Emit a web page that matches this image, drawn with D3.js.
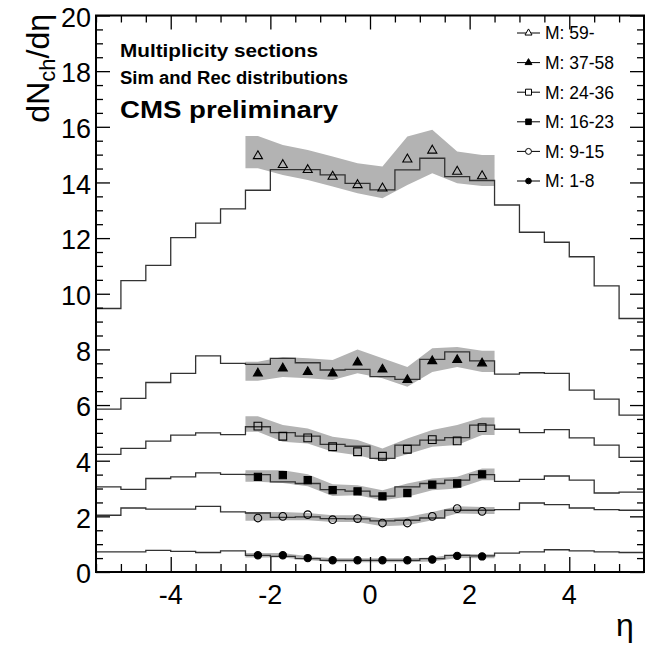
<!DOCTYPE html>
<html>
<head>
<meta charset="utf-8">
<script src="https://cdn.jsdelivr.net/npm/d3@7"></script>
<style>
  body { margin: 0; background: #fff; }
  text { font-family: "Liberation Sans", Arial, Helvetica, sans-serif; fill: #000; }
</style>
</head>
<body>
<script>
// bin edges in eta and the centres where the reco points sit
var etaEdges = [-5.5, -5, -4.5, -4, -3.5, -3, -2.5, -2, -1.5, -1, -0.5, 0,
                0.5, 1, 1.5, 2, 2.5, 3, 3.5, 4, 4.5, 5, 5.5];
var etaCenters = [-2.25, -1.75, -1.25, -0.75, -0.25, 0.25, 0.75, 1.25, 1.75, 2.25];

var labels = ["M: 59-", "M: 37-58", "M: 24-36", "M: 16-23", "M: 9-15", "M: 1-8"];

// simulated histograms (22 bins)
var simM59 = [9.47, 10.47, 11.02, 12.02, 12.54, 13.05, 13.72, 14.46, 14.46, 14.27, 13.97,
              13.73, 14.45, 14.87, 14.21, 14.07, 13.19, 12.21, 11.85, 11.33, 10.28, 9.11];
var simM37 = [5.85, 6.24, 6.81, 7.14, 7.77, 7.50, 7.46, 7.68, 7.52, 7.26, 7.28,
              7.02, 6.92, 7.64, 7.91, 7.59, 7.11, 7.16, 7.14, 6.54, 6.21, 5.64];
var simM24 = [4.23, 4.44, 4.70, 4.92, 5.00, 4.94, 5.22, 5.01, 4.88, 4.59, 4.52,
              4.08, 4.56, 4.74, 4.83, 5.28, 5.13, 5.01, 5.12, 4.82, 4.56, 4.12];
var simM16 = [3.06, 2.97, 3.36, 3.42, 3.56, 3.51, 3.50, 3.24, 3.18, 2.96, 2.91,
              2.73, 3.06, 3.18, 3.30, 3.50, 3.26, 3.33, 3.45, 3.30, 2.84, 2.87];
var simM9  = [2.04, 2.30, 2.26, 2.26, 2.36, 2.16, 2.12, 1.96, 1.98, 1.92, 1.91,
              1.84, 1.86, 1.94, 2.22, 2.22, 2.24, 2.48, 2.42, 2.30, 2.24, 2.22];
var simM1  = [0.72, 0.72, 0.78, 0.74, 0.70, 0.76, 0.60, 0.56, 0.48, 0.42, 0.42,
              0.42, 0.42, 0.48, 0.60, 0.58, 0.68, 0.72, 0.80, 0.76, 0.72, 0.70];

// reconstructed points
var recM59 = [14.95, 14.63, 14.45, 14.21, 13.91, 13.79, 14.83, 15.15, 14.39, 14.23];
var recM37 = [7.14, 7.32, 7.19, 7.14, 7.53, 7.28, 6.90, 7.58, 7.62, 7.50];
var recM24 = [5.24, 4.88, 4.82, 4.50, 4.32, 4.16, 4.41, 4.76, 4.71, 5.19];
var recM16 = [3.42, 3.48, 3.30, 2.94, 2.90, 2.72, 2.84, 3.14, 3.18, 3.51];
var recM9  = [1.94, 2.00, 2.06, 1.88, 1.92, 1.76, 1.76, 2.00, 2.28, 2.18];
var recM1  = [0.60, 0.60, 0.50, 0.42, 0.42, 0.42, 0.42, 0.45, 0.58, 0.56];

// systematic bands (low / high)
var loM59 = [14.51, 14.27, 14.09, 13.85, 13.61, 13.43, 13.91, 14.33, 13.97, 13.87];
var hiM59 = [15.67, 15.35, 15.17, 14.93, 14.69, 14.57, 15.65, 15.89, 15.11, 14.99];
var loM37 = [6.87, 7.01, 6.96, 6.90, 7.14, 6.96, 6.66, 7.19, 7.37, 7.19];
var hiM37 = [7.56, 7.73, 7.68, 7.62, 8.00, 7.68, 7.37, 8.04, 8.09, 7.95];
var loM24 = [5.04, 4.68, 4.62, 4.32, 4.20, 3.98, 4.23, 4.50, 4.56, 4.92];
var hiM24 = [5.60, 5.28, 5.16, 4.86, 4.74, 4.44, 4.80, 5.10, 5.28, 5.55];
var loM16 = [3.24, 3.20, 3.08, 2.73, 2.76, 2.58, 2.70, 2.94, 3.00, 3.30];
var hiM16 = [3.66, 3.66, 3.51, 3.15, 3.12, 2.94, 3.18, 3.36, 3.42, 3.72];
var loM9  = [1.84, 1.86, 1.86, 1.80, 1.80, 1.64, 1.68, 1.86, 2.10, 2.08];
var hiM9  = [2.16, 2.16, 2.12, 2.04, 2.04, 1.92, 1.98, 2.16, 2.36, 2.34];
var loM1  = [0.52, 0.52, 0.43, 0.35, 0.35, 0.35, 0.35, 0.38, 0.50, 0.49];
var hiM1  = [0.68, 0.68, 0.57, 0.49, 0.49, 0.49, 0.49, 0.52, 0.66, 0.64];

var series = [
  {label: labels[0], sim: simM59, rec: recM59, lo: loM59, hi: hiM59, sym: d3.symbolTriangle, filled: false, size: 36},
  {label: labels[1], sim: simM37, rec: recM37, lo: loM37, hi: hiM37, sym: d3.symbolTriangle, filled: true, size: 34},
  {label: labels[2], sim: simM24, rec: recM24, lo: loM24, hi: hiM24, sym: d3.symbolSquare, filled: false, size: 60},
  {label: labels[3], sim: simM16, rec: recM16, lo: loM16, hi: hiM16, sym: d3.symbolSquare, filled: true, size: 52},
  {label: labels[4], sim: simM9, rec: recM9, lo: loM9, hi: hiM9, sym: d3.symbolCircle, filled: false, size: 46},
  {label: labels[5], sim: simM1, rec: recM1, lo: loM1, hi: hiM1, sym: d3.symbolCircle, filled: true, size: 42}
];

var W = 645, H = 648;
var padLeft = 96, padRight = 644, padTop = 15.5, padBottom = 572;

var x = d3.scaleLinear().domain([-5.5, 5.5]).range([padLeft, padRight]);
var y = d3.scaleLinear().domain([0, 20]).range([padBottom, padTop]);

var svg = d3.select("body").append("svg")
    .attr("width", W)
    .attr("height", H);

var plot = svg.append("g");

// bands
var bandArea = d3.area()
    .x(function (d) { return x(d.eta); })
    .y0(function (d) { return y(d.lo); })
    .y1(function (d) { return y(d.hi); });

series.forEach(function (s) {
    var pts = etaCenters.map(function (e, i) { return {eta: e, lo: s.lo[i], hi: s.hi[i]}; });
    pts.unshift({eta: -2.5, lo: s.lo[0], hi: s.hi[0]});
    pts.push({eta: 2.5, lo: s.lo[s.lo.length - 1], hi: s.hi[s.hi.length - 1]});
    plot.append("path")
        .datum(pts)
        .attr("d", bandArea)
        .attr("fill", "#b3b3b3")
        .attr("stroke", "none");
});

// sim histograms
var stepLine = d3.line()
    .x(function (d) { return x(d[0]); })
    .y(function (d) { return y(d[1]); })
    .curve(d3.curveStepAfter);

series.forEach(function (s) {
    var pts = s.sim.map(function (v, i) { return [etaEdges[i], v]; });
    pts.push([etaEdges[etaEdges.length - 1], s.sim[s.sim.length - 1]]);
    plot.append("path")
        .datum(pts)
        .attr("d", stepLine)
        .attr("fill", "none")
        .attr("stroke", "#333")
        .attr("stroke-width", 1.3);
});

// rec markers
series.forEach(function (s) {
    plot.selectAll(null)
        .data(s.rec)
        .enter().append("path")
        .attr("transform", function (d, i) {
            return "translate(" + x(etaCenters[i]) + "," + y(d) + ")";
        })
        .attr("d", d3.symbol().type(s.sym).size(s.size))
        .attr("fill", s.filled ? "#000" : "none")
        .attr("stroke", "#000")
        .attr("stroke-width", 1.1);
});

// axes, ROOT style ticks pointing inwards
var xMajor = [-4, -2, 0, 2, 4];
var yMajor = [0, 2, 4, 6, 8, 10, 12, 14, 16, 18, 20];
var xMinor = d3.range(-5.5, 5.51, 0.5).filter(function (v) { return xMajor.indexOf(v) < 0; });
var yMinor = d3.range(0, 20.01, 0.5).filter(function (v) { return yMajor.indexOf(v) < 0; });

function tickAxis(axisFn, scale, vals, len, tx, ty) {
    var g = svg.append("g")
        .attr("transform", "translate(" + tx + "," + ty + ")")
        .call(axisFn(scale).tickValues(vals).tickSize(len).tickFormat(""));
    g.select(".domain").remove();
    g.selectAll("line").attr("stroke", "#000").attr("stroke-width", 1.3);
    return g;
}

tickAxis(d3.axisTop, x, xMajor, 15, 0, padBottom);
tickAxis(d3.axisTop, x, xMinor, 8, 0, padBottom);
tickAxis(d3.axisBottom, x, xMajor, 14, 0, padTop);
tickAxis(d3.axisBottom, x, xMinor, 7, 0, padTop);
tickAxis(d3.axisRight, y, yMajor, 14, padLeft, 0);
tickAxis(d3.axisRight, y, yMinor, 7, padLeft, 0);
tickAxis(d3.axisLeft, y, yMajor, 14, padRight, 0);
tickAxis(d3.axisLeft, y, yMinor, 7, padRight, 0);

// frame
svg.append("rect")
    .attr("x", padLeft)
    .attr("y", padTop)
    .attr("width", padRight - padLeft)
    .attr("height", padBottom - padTop)
    .attr("fill", "none")
    .attr("stroke", "#000")
    .attr("stroke-width", 2);

// tick labels
svg.selectAll(".ylab")
    .data(yMajor)
    .enter().append("text")
    .attr("x", padLeft - 5)
    .attr("y", function (d) { return y(d); })
    .attr("dy", "0.42em")
    .attr("text-anchor", "end")
    .style("font-size", "27px")
    .text(function (d) { return d; });

svg.selectAll(".xlab")
    .data(xMajor)
    .enter().append("text")
    .attr("x", function (d) { return x(d); })
    .attr("y", padBottom + 32)
    .attr("text-anchor", "middle")
    .style("font-size", "27px")
    .text(function (d) { return d; });

// axis titles
var yt = svg.append("text")
    .attr("transform", "translate(49,14) rotate(-90)")
    .attr("text-anchor", "end")
    .style("font-size", "32px");
yt.append("tspan").text("dN");
yt.append("tspan").attr("dy", 6).style("font-size", "22px").text("ch");
yt.append("tspan").attr("dy", -6).text("/d\u03b7");

svg.append("text")
    .attr("x", 625)
    .attr("y", 636)
    .attr("text-anchor", "middle")
    .style("font-size", "32px")
    .text("\u03b7");

// header text
svg.append("text")
    .attr("x", 120).attr("y", 57)
    .attr("textLength", 198).attr("lengthAdjust", "spacingAndGlyphs")
    .style("font-size", "18px").style("font-weight", "bold")
    .text("Multiplicity sections");
svg.append("text")
    .attr("x", 120).attr("y", 84)
    .attr("textLength", 228).attr("lengthAdjust", "spacingAndGlyphs")
    .style("font-size", "18px").style("font-weight", "bold")
    .text("Sim and Rec distributions");
svg.append("text")
    .attr("x", 120).attr("y", 118)
    .attr("textLength", 218).attr("lengthAdjust", "spacingAndGlyphs")
    .style("font-size", "24px").style("font-weight", "bold")
    .text("CMS preliminary");

// legend
var leg = svg.append("g");
series.forEach(function (s, i) {
    var ly = 33 + i * 29.6;
    leg.append("line")
        .attr("x1", 517).attr("x2", 540)
        .attr("y1", ly).attr("y2", ly)
        .attr("stroke", "#000").attr("stroke-width", 1);
    leg.append("path")
        .attr("transform", "translate(528.5," + ly + ")")
        .attr("d", d3.symbol().type(s.sym).size(s.size * 0.6))
        .attr("fill", s.filled ? "#000" : "#fff")
        .attr("stroke", "#000")
        .attr("stroke-width", 1);
    leg.append("text")
        .attr("x", 545)
        .attr("y", ly)
        .attr("dy", "0.36em")
        .style("font-size", "17.5px")
        .text(s.label);
});
</script>
</body>
</html>
